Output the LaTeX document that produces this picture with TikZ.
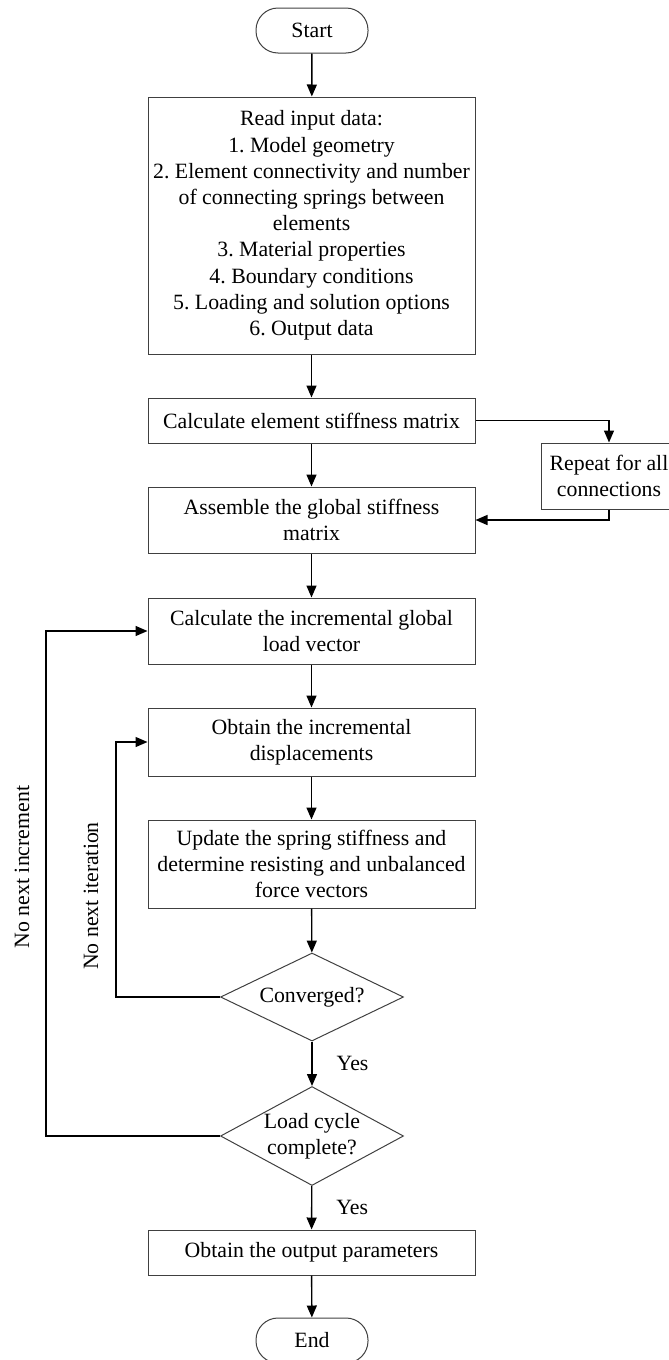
\documentclass[tikz,border=0pt]{standalone}
\usepackage{fontspec}
\setmainfont{Liberation Serif}
\usetikzlibrary{shapes.geometric,arrows.meta}
\frenchspacing
\begin{document}
\begin{tikzpicture}[x=1pt,y=-1pt,
  font=\fontsize{21.8}{26.2}\selectfont,
  box/.style={draw=black!75, line width=1pt, rectangle, inner sep=0pt, align=center, minimum width=327pt},
  term/.style={draw=black!75, line width=1pt, rectangle, rounded corners=22pt, inner sep=0pt, minimum width=112pt, minimum height=45pt},
  dec/.style={draw=black!75, line width=1pt, diamond, inner sep=-12pt, align=center, minimum width=183pt},
  arr/.style={draw=black, line width=1.4pt, -{Triangle[width=10pt,length=12pt]}},
  lbl/.style={inner sep=0pt}
]
\useasboundingbox (0,0) rectangle (669,1360);
\node[term] (start) at (312,30.5) {Start};
\node[box, minimum height=257pt] (input) at (311.5,225.5) {Read input data:\\1. Model geometry\\2. Element connectivity and number\\of connecting springs between\\elements\\3. Material properties\\4. Boundary conditions\\5. Loading and solution options\\6. Output data};
\node[box, minimum height=45pt] (calc) at (311.5,420.5) {Calculate element stiffness matrix};
\node[draw=black!75, line width=1pt, rectangle, inner sep=0pt, align=center, minimum width=136pt, minimum height=66pt] (repeat) at (609,476) {Repeat for all\\connections};
\node[box, minimum height=66pt] (assemble) at (311.5,520) {Assemble the global stiffness\\matrix};
\node[box, minimum height=66pt] (incr) at (311.5,631) {Calculate the incremental global\\load vector};
\node[box, minimum height=68pt] (obtain) at (311.5,742) {Obtain the incremental\\displacements};
\node[box, minimum height=88pt] (update) at (311.5,864) {Update the spring stiffness and\\determine resisting and unbalanced\\force vectors};
\node[dec, minimum height=88pt] (conv) at (312,997) {Converged?};
\node[dec, minimum height=99pt] (load) at (312,1136) {Load cycle\\complete?};
\node[box, minimum height=45pt] (output) at (311.5,1252.5) {Obtain the output parameters};
\node[term] (end) at (312,1340.5) {End};
\coordinate (innerx) at (116,0);
\coordinate (outerx) at (46,0);
\node[lbl, rotate=90] (lni) at (22,867) {No next increment};
\node[lbl, rotate=90] (lnit) at (91,896) {No next iteration};

\draw[arr] (start) -- (input);
\draw[arr] (input) -- (calc);
\draw[arr] (calc) -- (assemble);
\draw[arr] (calc.east) -| (repeat.north);
\draw[arr] (repeat.south) |- (assemble.east);
\draw[arr] (assemble) -- (incr);
\draw[arr] (incr) -- (obtain);
\draw[arr] (obtain) -- (update);
\draw[arr] (update) -- (conv);
\draw[arr] (conv) -- node[anchor=west, xshift=24pt, lbl] (yes1) {Yes} (load);
\draw[arr] (load) -- node[anchor=west, xshift=24pt, lbl] (yes2) {Yes} (output);
\draw[arr] (output) -- (end);
\draw[arr] (conv.west) -- (conv.west -| innerx) |- (obtain.west);
\draw[arr] (load.west) -- (load.west -| outerx) |- (incr.west);
\end{tikzpicture}
\end{document}
